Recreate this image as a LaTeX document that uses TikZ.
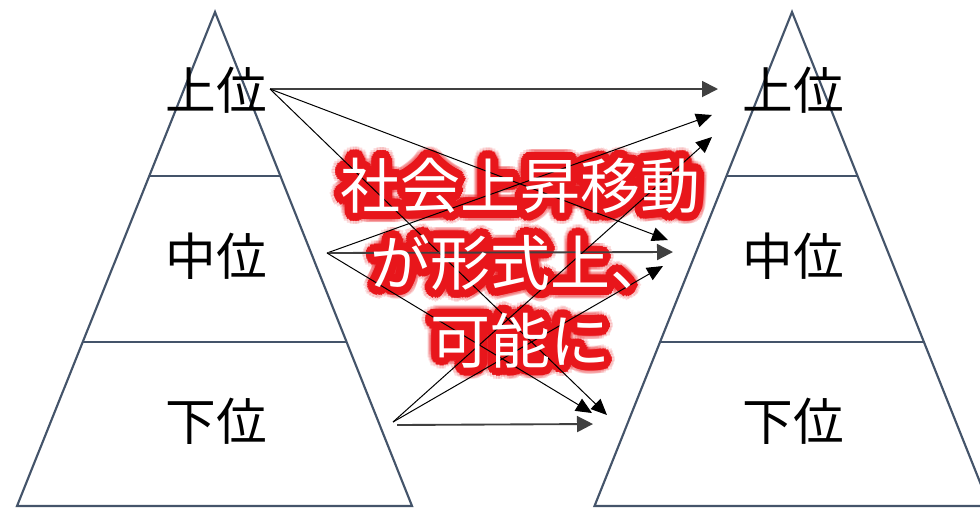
\documentclass[tikz,border=0pt]{standalone}
\usepackage{fontspec}
\setmainfont{Noto Sans CJK JP}
\usetikzlibrary{arrows.meta,calc}
\definecolor{pyr}{HTML}{44546A}
\definecolor{hline}{HTML}{404040}
\definecolor{glowred}{HTML}{E8161B}
\tikzset{
  pyramid/.style={draw=pyr, line width=1.6pt, line join=miter},
  tier/.style={draw=pyr, line width=1.6pt},
  lvl/.style={font=\fontsize{38}{40}\selectfont, inner sep=0pt},
  harrow/.style={draw=hline, line width=1.4pt, -{Triangle[length=12pt,width=12pt]}},
  darrow/.style={draw=black, line width=0.75pt, -{Triangle[length=12pt,width=10.5pt]}},
  msgtext/.style={font=\fontsize{45}{58}\selectfont, align=center, inner sep=0pt},
}
\newcommand{\msgbody}{社会上昇移動\\が形式上、\\可能に}
\begin{document}
\begin{tikzpicture}[x=0.75pt,y=-0.75pt]
\useasboundingbox (0,0) rectangle (980,508);
% left pyramid
\coordinate (LA) at (215,12);
\coordinate (LB) at (17,506);
\coordinate (LC) at (412,506);
\draw[pyramid] (LA) -- (LB) -- (LC) -- cycle;
\draw[tier] ($(LA)!0.332!(LB)$) -- ($(LA)!0.332!(LC)$);
\draw[tier] ($(LA)!0.668!(LB)$) -- ($(LA)!0.668!(LC)$);
% right pyramid
\coordinate (RA) at (792,12);
\coordinate (RB) at (594.5,506);
\coordinate (RC) at (989.5,506);
\draw[pyramid] (RA) -- (RB) -- (RC) -- cycle;
\draw[tier] ($(RA)!0.332!(RB)$) -- ($(RA)!0.332!(RC)$);
\draw[tier] ($(RA)!0.668!(RB)$) -- ($(RA)!0.668!(RC)$);
% labels
\node[lvl] (L1) at (216,90) {上位};
\node[lvl] (L2) at (216,256) {中位};
\node[lvl] (L3) at (216,421) {下位};
\node[lvl] (R1) at (793,90) {上位};
\node[lvl] (R2) at (793,256) {中位};
\node[lvl] (R3) at (793,421) {下位};
% message glow
\coordinate (msg) at (520,263);
\foreach \a [count=\i] in {0,15,...,345}{
  \node[msgtext, text=glowred, opacity=0.15] (ga\i) at ($(msg)+(\a:8.5pt)$) {\msgbody};
}
\foreach \a [count=\i] in {0,15,...,345}{
  \node[msgtext, text=glowred] (gb\i) at ($(msg)+(\a:6pt)$) {\msgbody};
}
\foreach \a [count=\i] in {0,30,...,330}{
  \node[msgtext, text=glowred] (gc\i) at ($(msg)+(\a:3pt)$) {\msgbody};
}
% arrow points
\coordinate (s1) at (270,89);
\coordinate (s2) at (327,253);
\coordinate (s3) at (393,422);
\coordinate (s3h) at (397,425);
\coordinate (t11) at (718,89);
\coordinate (t21) at (712,115);
\coordinate (t31) at (712,137);
\coordinate (t12) at (668,240);
\coordinate (t22) at (673,252);
\coordinate (t32) at (663,266);
\coordinate (t13) at (607,415);
\coordinate (t23) at (592,413);
\coordinate (t33) at (593,424);
% arrows
\draw[harrow] (s1) -- (t11);
\draw[darrow] (s1) -- (t12);
\draw[darrow] (s1) -- (t13);
\draw[darrow] (s2) -- (t21);
\draw[harrow] (s2) -- (t22);
\draw[darrow] (s2) -- (t23);
\draw[darrow] (s3) -- (t31);
\draw[darrow] (s3) -- (t32);
\draw[harrow] (s3h) -- (t33);
% message text
\node[msgtext, text=white] (msgtxt) at (msg) {\msgbody};
\end{tikzpicture}
\end{document}
